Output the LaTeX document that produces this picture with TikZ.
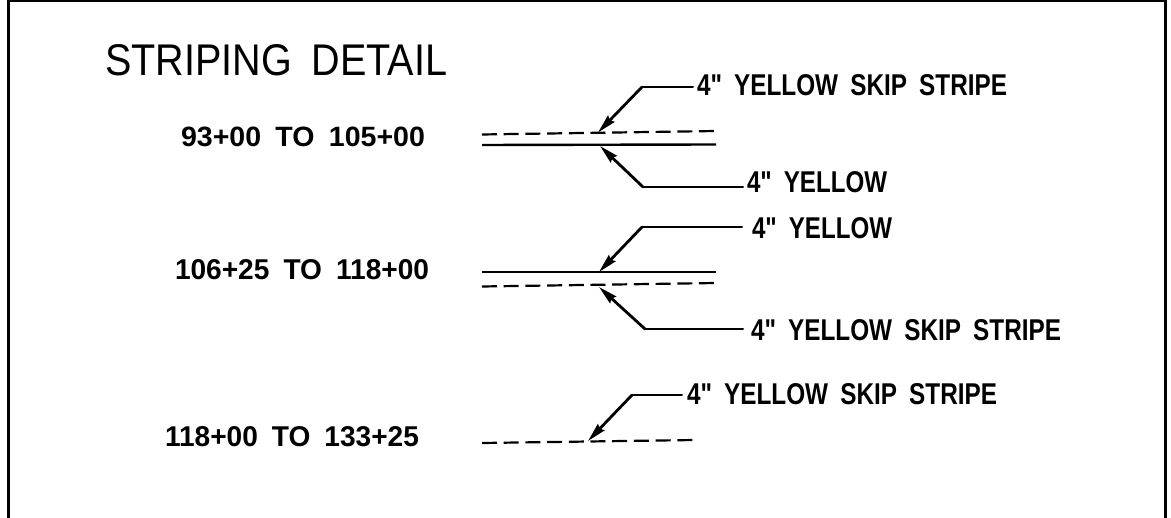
\documentclass[tikz,border=0pt]{standalone}
\usepackage{fontspec}
\usepackage{graphicx}
\setmainfont{Liberation Sans}
\newfontface\quoteface{Liberation Sans Bold}
\usetikzlibrary{arrows.meta}
\newcommand{\fitlabel}[3]{\resizebox{#1pt}{#2pt}{#3}}
\newcommand{\wgap}{\hspace{0.5em}}
\newcommand{\fourin}{4{\quoteface"}}
\tikzset{
  every node/.style={inner sep=0pt,outer sep=0pt,anchor=base west,text=black},
  lab/.style={font=\bfseries},
  ttl/.style={font=\normalfont},
  frameline/.style={line width=3pt,black},
  solidstripe/.style={line width=2.4pt,black},
  skipstripe/.style={line width=2.2pt,black,dash pattern=on 15pt off 6.7pt},
  leadarm/.style={line width=2pt,black,line cap=round},
  leader/.style={line width=2.8pt,black,line cap=round,-{Stealth[length=19pt,width=9pt,inset=2pt]}},
}
\begin{document}
\begin{tikzpicture}[x=1pt,y=-1pt]
\useasboundingbox (0,0) rectangle (1171,518);
\fill[white] (0,0) rectangle (1171,518);
\coordinate (fbl) at (8.5,518);
\coordinate (ftl) at (8.5,1);
\coordinate (ftr) at (1165,1);
\coordinate (fbr) at (1165,518);
\draw[frameline] (fbl) -- (ftl) -- (ftr) -- (fbr);
\node[ttl] (title) at (105,75.5) {\fitlabel{342}{31}{STRIPING\wgap DETAIL}};
% group 1
\node[lab] (s1) at (181,147) {\fitlabel{244}{19.5}{93+00\wgap TO\wgap 105+00}};
\coordinate (d1a) at (482,134.5);
\coordinate (d1b) at (716,131);
\coordinate (y1a) at (482,145);
\coordinate (y1b) at (716,144.5);
\draw[skipstripe] (d1a) -- (d1b);
\draw[solidstripe] (y1a) -- (y1b);
\node[lab] (l1) at (697,96) {\fitlabel{310}{21}{\fourin\wgap YELLOW\wgap SKIP\wgap STRIPE}};
\node[lab] (l2) at (747,192.5) {\fitlabel{140}{21}{\fourin\wgap YELLOW}};
\coordinate (t1) at (598,132.5);
\coordinate (t2) at (600,146);
\coordinate (b1) at (642,87);
\coordinate (b2) at (643,187);
\coordinate (e1) at (693,87);
\coordinate (e2) at (743,187);
\draw[leadarm] (e1) -- (b1);
\draw[leader] (b1) -- (t1);
\draw[leadarm] (e2) -- (b2);
\draw[leader] (b2) -- (t2);
% group 2
\node[lab] (s2) at (175,280) {\fitlabel{254}{20}{106+25\wgap TO\wgap 118+00}};
\coordinate (y2a) at (482,272);
\coordinate (y2b) at (716,272);
\coordinate (d2a) at (482,286.5);
\coordinate (d2b) at (716,283);
\draw[solidstripe] (y2a) -- (y2b);
\draw[skipstripe] (d2a) -- (d2b);
\node[lab] (l3) at (752,238.5) {\fitlabel{140}{21}{\fourin\wgap YELLOW}};
\node[lab] (l4) at (751,340.5) {\fitlabel{310}{21}{\fourin\wgap YELLOW\wgap SKIP\wgap STRIPE}};
\coordinate (t3) at (599,272);
\coordinate (t4) at (599,287);
\coordinate (b3) at (642,227);
\coordinate (b4) at (645,329);
\coordinate (e3) at (742,227);
\coordinate (e4) at (743,329);
\draw[leadarm] (e3) -- (b3);
\draw[leader] (b3) -- (t3);
\draw[leadarm] (e4) -- (b4);
\draw[leader] (b4) -- (t4);
% group 3
\node[lab] (s3) at (165,447) {\fitlabel{254}{20}{118+00\wgap TO\wgap 133+25}};
\coordinate (d3a) at (482,443);
\coordinate (d3b) at (695,440);
\draw[skipstripe] (d3a) -- (d3b);
\node[lab] (l5) at (687,404.5) {\fitlabel{310}{21}{\fourin\wgap YELLOW\wgap SKIP\wgap STRIPE}};
\coordinate (t5) at (588,441);
\coordinate (b5) at (632,395);
\coordinate (e5) at (682,395);
\draw[leadarm] (e5) -- (b5);
\draw[leader] (b5) -- (t5);
\end{tikzpicture}
\end{document}
